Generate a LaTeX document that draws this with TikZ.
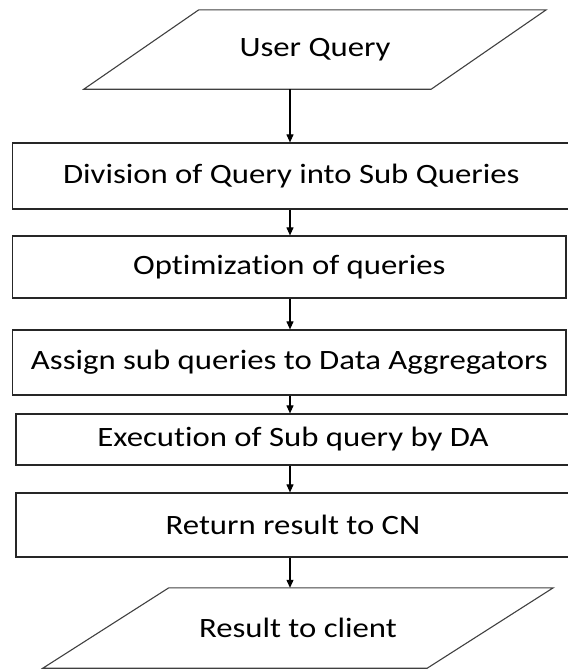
\documentclass[tikz,border=0pt]{standalone}
\usepackage{fontspec}
\setmainfont{Carlito}[FakeStretch=1.17,Ligatures=NoCommon]
\usetikzlibrary{arrows.meta,calc}
\begin{document}
\begin{tikzpicture}[x=1pt,y=-1pt,
  stepbox/.style={draw=black!85,line width=1.2pt,rectangle,inner sep=0pt,font=\fontsize{28}{32}\selectfont},
  iobox/.style={rectangle,inner sep=0pt,font=\fontsize{28}{32}\selectfont},
  ioline/.style={draw=black!75,line width=1.1pt,line join=miter},
  arr/.style={draw=black,line width=1.1pt,-{Triangle[length=8pt,width=7pt]}}]
\useasboundingbox (0,0) rectangle (568,670);
\coordinate (ax) at (290,0);
% top input/output
\node[iobox,minimum width=462pt,minimum height=79pt] (uq) at (315,49.5) {User Query};
\draw[ioline] ($(uq.north west)+(115,0)$) -- (uq.north east) -- ($(uq.south east)-(115,0)$) -- (uq.south west) -- cycle;
% process boxes
\node[stepbox,minimum width=557.3pt,minimum height=66pt] (b1) at (291.35,176) {Division of Query into Sub Queries};
\node[stepbox,minimum width=553.3pt,minimum height=62pt] (b2) at (289.35,267) {Optimization of queries};
\node[stepbox,minimum width=553.3pt,minimum height=65pt] (b3) at (289.35,362.5) {Assign sub queries to Data Aggregators};
\node[stepbox,minimum width=554pt,minimum height=51pt] (b4) at (293,439.5) {Execution of Sub query by DA};
\node[stepbox,minimum width=554pt,minimum height=64pt] (b5) at (293,525) {Return result to CN};
% bottom input/output
\node[iobox,minimum width=510pt,minimum height=80pt] (rc) at (298,628) {Result to client};
\draw[ioline] ($(rc.north west)+(126,0)$) -- (rc.north east) -- ($(rc.south east)-(126,0)$) -- (rc.south west) -- cycle;
% connectors
\draw[arr] (uq.south -| ax) -- (b1.north -| ax);
\draw[arr] (b1.south -| ax) -- (b2.north -| ax);
\draw[arr] (b2.south -| ax) -- (b3.north -| ax);
\draw[arr] (b3.south -| ax) -- (b4.north -| ax);
\draw[arr] (b4.south -| ax) -- (b5.north -| ax);
\draw[arr] (b5.south -| ax) -- (rc.north -| ax);
\end{tikzpicture}
\end{document}
